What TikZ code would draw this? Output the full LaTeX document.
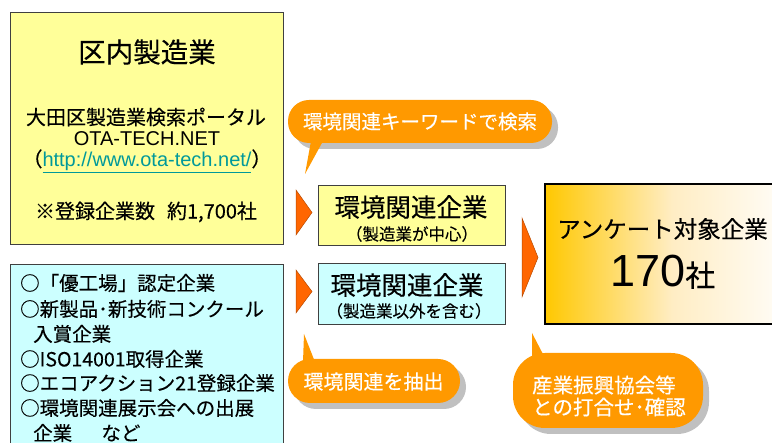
\documentclass[tikz,border=0pt]{standalone}
\usepackage{fontspec}
\setmainfont{Noto Sans CJK JP}[FakeBold=0.3]
\newfontfamily\lat{Liberation Sans}
\definecolor{ybox}{HTML}{FFFF99}
\definecolor{cbox}{HTML}{CCFFFF}
\definecolor{bub}{HTML}{FF9900}
\definecolor{arr}{HTML}{FF6600}
\definecolor{arrline}{HTML}{B84A00}
\definecolor{shad}{HTML}{C0C0C0}
\definecolor{urlc}{HTML}{00999A}
\definecolor{gold}{HTML}{FFC800}
\definecolor{goldmid}{HTML}{FFEDC4}
\begin{document}
\begin{tikzpicture}[x=1pt,y=-1pt,
  boxy/.style={draw=black!75,line width=0.9pt,fill=ybox,minimum width=#1,inner sep=0pt},
  boxc/.style={draw=black!75,line width=0.9pt,fill=cbox,minimum width=#1,inner sep=0pt},
  txt/.style={inner sep=0pt,font=\fontsize{#1}{#1}\selectfont},
  wtxt/.style={inner sep=0pt,text=white,font=\fontsize{#1}{#1}\selectfont},
  tri/.style={fill=arr,draw=arrline,line width=0.5pt,line join=miter},
  bubble/.style={fill=bub,draw=none},
  shadow/.style={fill=shad,draw=none}]
\useasboundingbox (0,0) rectangle (772,443);
% left boxes
\node[boxy=273pt,minimum height=232pt] (src) at (146.5,128) {};
\node[txt=27.5] (t1) at (147,52) {区内製造業};
\node[txt=20] (t2) at (146,117) {大田区製造業検索ポータル};
\node[txt=20,font=\lat\fontsize{20}{20}\selectfont] (t3) at (147,139) {OTA-TECH.NET};
\node[txt=20] (t4) at (147,161) {（{\lat\color{urlc}\underline{http://www.ota-tech.net/}}）};
\node[txt=20] (t5) at (146,212) {※登録企業数\hspace{0.6em}約1,700社};
\node[boxc=273pt,minimum height=190pt] (lst) at (146.5,359) {};
\node[txt=19.5,anchor=west] (l1) at (20,283) {○「優工場」認定企業};
\node[txt=19.5,anchor=west] (l2) at (20,309) {○新製品･新技術コンクール};
\node[txt=19.5,anchor=west] (l3) at (33,334) {入賞企業};
\node[txt=19.5,anchor=west] (l4) at (20,359) {○ISO14001取得企業};
\node[txt=19.5,anchor=west] (l5) at (20,383) {○エコアクション21登録企業};
\node[txt=19.5,anchor=west] (l6) at (20,408) {○環境関連展示会への出展};
\node[txt=19.5,anchor=west] (l7) at (33,433) {企業\hspace{1.5em}など};
% middle boxes
\node[boxy=187pt,minimum height=60pt] (m1) at (411.5,215) {};
\node[txt=25.5] (m1a) at (411,207) {環境関連企業};
\node[txt=16.5] (m1b) at (412,234) {（製造業が中心）};
\node[boxc=187pt,minimum height=61pt] (m2) at (411.5,293.5) {};
\node[txt=25.5] (m2a) at (407,285) {環境関連企業};
\node[txt=16.5] (m2b) at (409,311) {（製造業以外を含む）};
% small arrows
\draw[tri] (296,190) -- (312,212.5) -- (296,235) -- cycle;
\draw[tri] (296,270) -- (312,291.5) -- (296,313) -- cycle;
\draw[tri] (522,218) -- (538,257.5) -- (522,297) -- cycle;
% result box
\shade[left color=gold,right color=white,middle color=goldmid] (545,184) rectangle (800,324);
\node[draw=black,line width=1.6pt,minimum width=255pt,minimum height=140pt,inner sep=0pt] (res) at (672.5,254) {};
\node[txt=23.5,anchor=west] (r1) at (557,229) {アンケート対象企業};
\node[inner sep=0pt,anchor=west] (r2) at (610,272) {{\lat\fontsize{45}{45}\selectfont 170}{\fontsize{30}{30}\selectfont 社}};
% bubble 1
\fill[shadow,rounded corners=21pt] (294,106) rectangle (558,149);
\fill[bubble] (311,141) -- (305,174) -- (323,141) -- cycle;
\node[bubble,rounded corners=21pt,minimum width=264pt,minimum height=43pt] (b1) at (420,121.5) {};
\node[wtxt=19.5] (b1t) at (420,121.5) {環境関連キーワードで検索};
% bubble 2
\fill[shadow,rounded corners=22pt] (294,365) rectangle (466,409);
\fill[bubble] (303,362) -- (304,334) -- (315,362) -- cycle;
\node[bubble,rounded corners=22pt,minimum width=172pt,minimum height=44pt] (b2) at (374,381) {};
\node[wtxt=20] (b2t) at (373.5,381.5) {環境関連を抽出};
% bubble 3
\fill[shadow,rounded corners=32pt] (519,359) rectangle (709,434);
\fill[bubble] (532,358) -- (532,333) -- (545,358) -- cycle;
\node[bubble,rounded corners=32pt,minimum width=190pt,minimum height=75pt] (b3) at (608,390.5) {};
\node[wtxt=20.5,align=left,anchor=west,font=\fontsize{20.5}{22}\selectfont] (b3t) at (532,396) {産業振興協会等\\との打合せ･確認};
\end{tikzpicture}
\end{document}
